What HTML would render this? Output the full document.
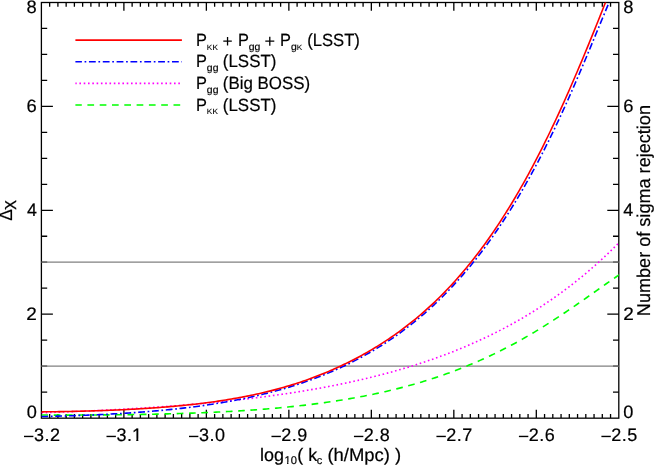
<!DOCTYPE html>
<html><head><meta charset="utf-8"><title>plot</title>
<style>html,body{margin:0;padding:0;background:#fff;}svg{display:block;will-change:transform;}text{font-family:"Liberation Sans",sans-serif;fill:#000;white-space:pre;stroke:#000;stroke-width:0.2px;text-rendering:geometricPrecision;}</style>
</head><body>
<svg width="654" height="465" viewBox="0 0 654 465">
<rect x="0" y="0" width="654" height="465" fill="#ffffff"/>
<defs><clipPath id="pc"><rect x="41.4" y="2.5" width="577.40" height="415.55"/></clipPath><clipPath id="c1a"><path d="M-1,-18.00 H18.00 V-2.14 H6.37 V2 H4.28 V-2.14 H-1 Z"/></clipPath><clipPath id="c1b"><path d="M-1,-11.16 H11.16 V-1.63 H4.04 V2 H2.56 V-1.63 H-1 Z"/></clipPath></defs>
<path d="M49.65,418.05 v-4.15 M49.65,2.5 v4.15 M57.90,418.05 v-4.15 M57.90,2.5 v4.15 M66.15,418.05 v-4.15 M66.15,2.5 v4.15 M74.39,418.05 v-4.15 M74.39,2.5 v4.15 M82.64,418.05 v-4.15 M82.64,2.5 v4.15 M90.89,418.05 v-4.15 M90.89,2.5 v4.15 M99.14,418.05 v-4.15 M99.14,2.5 v4.15 M107.39,418.05 v-4.15 M107.39,2.5 v4.15 M115.64,418.05 v-4.15 M115.64,2.5 v4.15 M123.89,418.05 v-8.3 M123.89,2.5 v8.3 M132.13,418.05 v-4.15 M132.13,2.5 v4.15 M140.38,418.05 v-4.15 M140.38,2.5 v4.15 M148.63,418.05 v-4.15 M148.63,2.5 v4.15 M156.88,418.05 v-4.15 M156.88,2.5 v4.15 M165.13,418.05 v-4.15 M165.13,2.5 v4.15 M173.38,418.05 v-4.15 M173.38,2.5 v4.15 M181.63,418.05 v-4.15 M181.63,2.5 v4.15 M189.87,418.05 v-4.15 M189.87,2.5 v4.15 M198.12,418.05 v-4.15 M198.12,2.5 v4.15 M206.37,418.05 v-8.3 M206.37,2.5 v8.3 M214.62,418.05 v-4.15 M214.62,2.5 v4.15 M222.87,418.05 v-4.15 M222.87,2.5 v4.15 M231.12,418.05 v-4.15 M231.12,2.5 v4.15 M239.37,418.05 v-4.15 M239.37,2.5 v4.15 M247.61,418.05 v-4.15 M247.61,2.5 v4.15 M255.86,418.05 v-4.15 M255.86,2.5 v4.15 M264.11,418.05 v-4.15 M264.11,2.5 v4.15 M272.36,418.05 v-4.15 M272.36,2.5 v4.15 M280.61,418.05 v-4.15 M280.61,2.5 v4.15 M288.86,418.05 v-8.3 M288.86,2.5 v8.3 M297.11,418.05 v-4.15 M297.11,2.5 v4.15 M305.35,418.05 v-4.15 M305.35,2.5 v4.15 M313.60,418.05 v-4.15 M313.60,2.5 v4.15 M321.85,418.05 v-4.15 M321.85,2.5 v4.15 M330.10,418.05 v-4.15 M330.10,2.5 v4.15 M338.35,418.05 v-4.15 M338.35,2.5 v4.15 M346.60,418.05 v-4.15 M346.60,2.5 v4.15 M354.85,418.05 v-4.15 M354.85,2.5 v4.15 M363.09,418.05 v-4.15 M363.09,2.5 v4.15 M371.34,418.05 v-8.3 M371.34,2.5 v8.3 M379.59,418.05 v-4.15 M379.59,2.5 v4.15 M387.84,418.05 v-4.15 M387.84,2.5 v4.15 M396.09,418.05 v-4.15 M396.09,2.5 v4.15 M404.34,418.05 v-4.15 M404.34,2.5 v4.15 M412.59,418.05 v-4.15 M412.59,2.5 v4.15 M420.83,418.05 v-4.15 M420.83,2.5 v4.15 M429.08,418.05 v-4.15 M429.08,2.5 v4.15 M437.33,418.05 v-4.15 M437.33,2.5 v4.15 M445.58,418.05 v-4.15 M445.58,2.5 v4.15 M453.83,418.05 v-8.3 M453.83,2.5 v8.3 M462.08,418.05 v-4.15 M462.08,2.5 v4.15 M470.33,418.05 v-4.15 M470.33,2.5 v4.15 M478.57,418.05 v-4.15 M478.57,2.5 v4.15 M486.82,418.05 v-4.15 M486.82,2.5 v4.15 M495.07,418.05 v-4.15 M495.07,2.5 v4.15 M503.32,418.05 v-4.15 M503.32,2.5 v4.15 M511.57,418.05 v-4.15 M511.57,2.5 v4.15 M519.82,418.05 v-4.15 M519.82,2.5 v4.15 M528.07,418.05 v-4.15 M528.07,2.5 v4.15 M536.31,418.05 v-8.3 M536.31,2.5 v8.3 M544.56,418.05 v-4.15 M544.56,2.5 v4.15 M552.81,418.05 v-4.15 M552.81,2.5 v4.15 M561.06,418.05 v-4.15 M561.06,2.5 v4.15 M569.31,418.05 v-4.15 M569.31,2.5 v4.15 M577.56,418.05 v-4.15 M577.56,2.5 v4.15 M585.81,418.05 v-4.15 M585.81,2.5 v4.15 M594.05,418.05 v-4.15 M594.05,2.5 v4.15 M602.30,418.05 v-4.15 M602.30,2.5 v4.15 M610.55,418.05 v-4.15 M610.55,2.5 v4.15 M41.4,392.08 h5.8 M618.8,392.08 h-5.8 M41.4,366.11 h5.8 M618.8,366.11 h-5.8 M41.4,340.13 h5.8 M618.8,340.13 h-5.8 M41.4,314.16 h11.5 M618.8,314.16 h-11.5 M41.4,288.19 h5.8 M618.8,288.19 h-5.8 M41.4,262.22 h5.8 M618.8,262.22 h-5.8 M41.4,236.25 h5.8 M618.8,236.25 h-5.8 M41.4,210.28 h11.5 M618.8,210.28 h-11.5 M41.4,184.30 h5.8 M618.8,184.30 h-5.8 M41.4,158.33 h5.8 M618.8,158.33 h-5.8 M41.4,132.36 h5.8 M618.8,132.36 h-5.8 M41.4,106.39 h11.5 M618.8,106.39 h-11.5 M41.4,80.42 h5.8 M618.8,80.42 h-5.8 M41.4,54.44 h5.8 M618.8,54.44 h-5.8 M41.4,28.47 h5.8 M618.8,28.47 h-5.8" stroke="#000" stroke-width="1.3" fill="none"/>
<rect x="41.4" y="2.5" width="577.40" height="415.67" fill="none" stroke="#000" stroke-width="1.3"/>
<line x1="41.4" y1="366.11" x2="618.8" y2="366.11" stroke="#808080" stroke-width="1.3"/>
<line x1="41.4" y1="262.22" x2="618.8" y2="262.22" stroke="#808080" stroke-width="1.3"/>
<g clip-path="url(#pc)" fill="none" stroke-width="1.6">
<path d="M41.40,415.03 L43.34,415.04 L45.28,415.05 L47.22,415.06 L49.16,415.07 L51.11,415.08 L53.05,415.08 L54.99,415.08 L56.93,415.09 L58.87,415.09 L60.81,415.09 L62.75,415.09 L64.69,415.09 L66.63,415.09 L68.58,415.09 L70.52,415.09 L72.46,415.09 L74.40,415.08 L76.34,415.08 L78.28,415.07 L80.22,415.06 L82.16,415.06 L84.11,415.05 L86.05,415.04 L87.99,415.03 L89.93,415.02 L91.87,415.01 L93.81,415.00 L95.75,414.98 L97.69,414.97 L99.63,414.95 L101.58,414.94 L103.52,414.92 L105.46,414.90 L107.40,414.89 L109.34,414.87 L111.28,414.85 L113.22,414.83 L115.16,414.81 L117.10,414.78 L119.05,414.76 L120.99,414.74 L122.93,414.71 L124.87,414.68 L126.81,414.66 L128.75,414.63 L130.69,414.60 L132.63,414.57 L134.57,414.54 L136.52,414.51 L138.46,414.48 L140.40,414.44 L142.34,414.41 L144.28,414.37 L146.22,414.33 L148.16,414.30 L150.10,414.26 L152.04,414.22 L153.99,414.18 L155.93,414.13 L157.87,414.09 L159.81,414.05 L161.75,414.00 L163.69,413.95 L165.63,413.90 L167.57,413.85 L169.52,413.80 L171.46,413.75 L173.40,413.70 L175.34,413.64 L177.28,413.58 L179.22,413.53 L181.16,413.47 L183.10,413.41 L185.04,413.34 L186.99,413.28 L188.93,413.22 L190.87,413.15 L192.81,413.08 L194.75,413.01 L196.69,412.94 L198.63,412.86 L200.57,412.79 L202.51,412.71 L204.46,412.63 L206.40,412.55 L208.34,412.47 L210.28,412.39 L212.22,412.30 L214.16,412.21 L216.10,412.12 L218.04,412.03 L219.98,411.94 L221.93,411.84 L223.87,411.74 L225.81,411.64 L227.75,411.54 L229.69,411.43 L231.63,411.33 L233.57,411.22 L235.51,411.10 L237.45,410.99 L239.40,410.87 L241.34,410.75 L243.28,410.63 L245.22,410.51 L247.16,410.38 L249.10,410.25 L251.04,410.12 L252.98,409.98 L254.93,409.84 L256.87,409.70 L258.81,409.56 L260.75,409.41 L262.69,409.26 L264.63,409.11 L266.57,408.95 L268.51,408.79 L270.45,408.63 L272.40,408.47 L274.34,408.30 L276.28,408.13 L278.22,407.95 L280.16,407.77 L282.10,407.59 L284.04,407.40 L285.98,407.21 L287.92,407.02 L289.87,406.82 L291.81,406.62 L293.75,406.42 L295.69,406.21 L297.63,406.00 L299.57,405.78 L301.51,405.56 L303.45,405.34 L305.39,405.11 L307.34,404.88 L309.28,404.64 L311.22,404.40 L313.16,404.16 L315.10,403.91 L317.04,403.66 L318.98,403.40 L320.92,403.14 L322.86,402.87 L324.81,402.60 L326.75,402.33 L328.69,402.05 L330.63,401.77 L332.57,401.48 L334.51,401.18 L336.45,400.89 L338.39,400.58 L340.34,400.28 L342.28,399.96 L344.22,399.64 L346.16,399.32 L348.10,398.99 L350.04,398.66 L351.98,398.32 L353.92,397.98 L355.86,397.63 L357.81,397.27 L359.75,396.91 L361.69,396.54 L363.63,396.17 L365.57,395.79 L367.51,395.40 L369.45,395.01 L371.39,394.62 L373.33,394.21 L375.28,393.81 L377.22,393.39 L379.16,392.97 L381.10,392.54 L383.04,392.11 L384.98,391.66 L386.92,391.22 L388.86,390.76 L390.80,390.30 L392.75,389.83 L394.69,389.36 L396.63,388.87 L398.57,388.38 L400.51,387.89 L402.45,387.38 L404.39,386.87 L406.33,386.35 L408.27,385.82 L410.22,385.29 L412.16,384.75 L414.10,384.20 L416.04,383.64 L417.98,383.08 L419.92,382.50 L421.86,381.92 L423.80,381.33 L425.75,380.73 L427.69,380.13 L429.63,379.51 L431.57,378.89 L433.51,378.26 L435.45,377.62 L437.39,376.97 L439.33,376.31 L441.27,375.65 L443.22,374.97 L445.16,374.29 L447.10,373.60 L449.04,372.89 L450.98,372.18 L452.92,371.46 L454.86,370.73 L456.80,369.99 L458.74,369.25 L460.69,368.49 L462.63,367.72 L464.57,366.95 L466.51,366.16 L468.45,365.36 L470.39,364.56 L472.33,363.74 L474.27,362.92 L476.21,362.08 L478.16,361.24 L480.10,360.38 L482.04,359.51 L483.98,358.64 L485.92,357.75 L487.86,356.86 L489.80,355.95 L491.74,355.03 L493.68,354.10 L495.63,353.17 L497.57,352.22 L499.51,351.26 L501.45,350.29 L503.39,349.30 L505.33,348.31 L507.27,347.31 L509.21,346.29 L511.16,345.27 L513.10,344.23 L515.04,343.18 L516.98,342.12 L518.92,341.05 L520.86,339.97 L522.80,338.88 L524.74,337.77 L526.68,336.66 L528.63,335.53 L530.57,334.39 L532.51,333.24 L534.45,332.08 L536.39,330.91 L538.33,329.73 L540.27,328.54 L542.21,327.34 L544.15,326.13 L546.10,324.91 L548.04,323.68 L549.98,322.44 L551.92,321.19 L553.86,319.94 L555.80,318.67 L557.74,317.40 L559.68,316.11 L561.62,314.82 L563.57,313.52 L565.51,312.22 L567.45,310.91 L569.39,309.59 L571.33,308.26 L573.27,306.93 L575.21,305.59 L577.15,304.25 L579.09,302.90 L581.04,301.55 L582.98,300.19 L584.92,298.83 L586.86,297.47 L588.80,296.11 L590.74,294.74 L592.68,293.37 L594.62,292.00 L596.57,290.62 L598.51,289.25 L600.45,287.88 L602.39,286.51 L604.33,285.14 L606.27,283.77 L608.21,282.40 L610.15,281.04 L612.09,279.68 L614.04,278.33 L615.98,276.97 L617.92,275.63 L619.86,274.29 L621.80,272.96" stroke="#00ff00" stroke-dasharray="6.7 5.6"/>
<path d="M41.40,412.80 L43.34,412.74 L45.28,412.67 L47.22,412.60 L49.16,412.53 L51.11,412.46 L53.05,412.39 L54.99,412.32 L56.93,412.25 L58.87,412.18 L60.81,412.10 L62.75,412.03 L64.69,411.95 L66.63,411.88 L68.58,411.80 L70.52,411.72 L72.46,411.64 L74.40,411.56 L76.34,411.48 L78.28,411.40 L80.22,411.31 L82.16,411.23 L84.11,411.15 L86.05,411.06 L87.99,410.97 L89.93,410.88 L91.87,410.79 L93.81,410.70 L95.75,410.61 L97.69,410.52 L99.63,410.43 L101.58,410.33 L103.52,410.24 L105.46,410.14 L107.40,410.04 L109.34,409.94 L111.28,409.84 L113.22,409.74 L115.16,409.64 L117.10,409.53 L119.05,409.43 L120.99,409.32 L122.93,409.21 L124.87,409.10 L126.81,408.99 L128.75,408.88 L130.69,408.77 L132.63,408.65 L134.57,408.54 L136.52,408.42 L138.46,408.30 L140.40,408.18 L142.34,408.06 L144.28,407.94 L146.22,407.81 L148.16,407.69 L150.10,407.56 L152.04,407.43 L153.99,407.30 L155.93,407.17 L157.87,407.03 L159.81,406.90 L161.75,406.76 L163.69,406.62 L165.63,406.48 L167.57,406.34 L169.52,406.20 L171.46,406.05 L173.40,405.91 L175.34,405.76 L177.28,405.61 L179.22,405.46 L181.16,405.30 L183.10,405.15 L185.04,404.99 L186.99,404.83 L188.93,404.67 L190.87,404.51 L192.81,404.34 L194.75,404.18 L196.69,404.01 L198.63,403.84 L200.57,403.66 L202.51,403.49 L204.46,403.31 L206.40,403.13 L208.34,402.95 L210.28,402.77 L212.22,402.59 L214.16,402.40 L216.10,402.21 L218.04,402.02 L219.98,401.82 L221.93,401.63 L223.87,401.43 L225.81,401.23 L227.75,401.02 L229.69,400.82 L231.63,400.61 L233.57,400.40 L235.51,400.19 L237.45,399.97 L239.40,399.76 L241.34,399.54 L243.28,399.31 L245.22,399.09 L247.16,398.86 L249.10,398.63 L251.04,398.40 L252.98,398.16 L254.93,397.92 L256.87,397.68 L258.81,397.43 L260.75,397.19 L262.69,396.94 L264.63,396.68 L266.57,396.43 L268.51,396.17 L270.45,395.91 L272.40,395.64 L274.34,395.38 L276.28,395.11 L278.22,394.83 L280.16,394.55 L282.10,394.27 L284.04,393.99 L285.98,393.70 L287.92,393.41 L289.87,393.12 L291.81,392.82 L293.75,392.52 L295.69,392.22 L297.63,391.91 L299.57,391.60 L301.51,391.29 L303.45,390.97 L305.39,390.65 L307.34,390.32 L309.28,389.99 L311.22,389.66 L313.16,389.32 L315.10,388.98 L317.04,388.64 L318.98,388.29 L320.92,387.94 L322.86,387.58 L324.81,387.22 L326.75,386.85 L328.69,386.49 L330.63,386.11 L332.57,385.74 L334.51,385.35 L336.45,384.97 L338.39,384.58 L340.34,384.18 L342.28,383.78 L344.22,383.38 L346.16,382.97 L348.10,382.56 L350.04,382.14 L351.98,381.72 L353.92,381.29 L355.86,380.86 L357.81,380.42 L359.75,379.98 L361.69,379.53 L363.63,379.08 L365.57,378.62 L367.51,378.16 L369.45,377.69 L371.39,377.22 L373.33,376.74 L375.28,376.25 L377.22,375.76 L379.16,375.27 L381.10,374.77 L383.04,374.26 L384.98,373.75 L386.92,373.23 L388.86,372.71 L390.80,372.18 L392.75,371.64 L394.69,371.10 L396.63,370.55 L398.57,370.00 L400.51,369.44 L402.45,368.87 L404.39,368.30 L406.33,367.72 L408.27,367.13 L410.22,366.54 L412.16,365.94 L414.10,365.33 L416.04,364.72 L417.98,364.10 L419.92,363.47 L421.86,362.84 L423.80,362.19 L425.75,361.55 L427.69,360.89 L429.63,360.23 L431.57,359.55 L433.51,358.88 L435.45,358.19 L437.39,357.50 L439.33,356.79 L441.27,356.09 L443.22,355.37 L445.16,354.64 L447.10,353.91 L449.04,353.17 L450.98,352.42 L452.92,351.66 L454.86,350.89 L456.80,350.11 L458.74,349.33 L460.69,348.54 L462.63,347.73 L464.57,346.92 L466.51,346.10 L468.45,345.27 L470.39,344.43 L472.33,343.58 L474.27,342.73 L476.21,341.86 L478.16,340.98 L480.10,340.09 L482.04,339.20 L483.98,338.29 L485.92,337.37 L487.86,336.45 L489.80,335.51 L491.74,334.56 L493.68,333.60 L495.63,332.63 L497.57,331.65 L499.51,330.66 L501.45,329.66 L503.39,328.64 L505.33,327.62 L507.27,326.58 L509.21,325.53 L511.16,324.47 L513.10,323.40 L515.04,322.32 L516.98,321.22 L518.92,320.11 L520.86,318.99 L522.80,317.86 L524.74,316.71 L526.68,315.56 L528.63,314.38 L530.57,313.20 L532.51,312.00 L534.45,310.79 L536.39,309.57 L538.33,308.33 L540.27,307.08 L542.21,305.81 L544.15,304.53 L546.10,303.24 L548.04,301.93 L549.98,300.61 L551.92,299.27 L553.86,297.92 L555.80,296.55 L557.74,295.17 L559.68,293.77 L561.62,292.36 L563.57,290.93 L565.51,289.48 L567.45,288.02 L569.39,286.54 L571.33,285.05 L573.27,283.54 L575.21,282.01 L577.15,280.47 L579.09,278.91 L581.04,277.33 L582.98,275.73 L584.92,274.12 L586.86,272.49 L588.80,270.84 L590.74,269.17 L592.68,267.49 L594.62,265.78 L596.57,264.06 L598.51,262.31 L600.45,260.55 L602.39,258.77 L604.33,256.97 L606.27,255.15 L608.21,253.30 L610.15,251.44 L612.09,249.56 L614.04,247.66 L615.98,245.73 L617.92,243.79 L619.86,241.82 L621.80,239.83" stroke="#ff00ff" stroke-dasharray="1.6 2.7"/>
<path d="M41.40,416.56 L43.34,416.52 L45.28,416.47 L47.22,416.43 L49.16,416.38 L51.11,416.33 L53.05,416.28 L54.99,416.23 L56.93,416.17 L58.87,416.12 L60.81,416.06 L62.75,416.01 L64.69,415.95 L66.63,415.89 L68.58,415.83 L70.52,415.76 L72.46,415.70 L74.40,415.63 L76.34,415.56 L78.28,415.49 L80.22,415.42 L82.16,415.35 L84.11,415.27 L86.05,415.20 L87.99,415.12 L89.93,415.04 L91.87,414.96 L93.81,414.87 L95.75,414.79 L97.69,414.70 L99.63,414.61 L101.58,414.51 L103.52,414.42 L105.46,414.32 L107.40,414.22 L109.34,414.12 L111.28,414.02 L113.22,413.91 L115.16,413.81 L117.10,413.70 L119.05,413.58 L120.99,413.47 L122.93,413.35 L124.87,413.23 L126.81,413.10 L128.75,412.98 L130.69,412.85 L132.63,412.72 L134.57,412.58 L136.52,412.45 L138.46,412.31 L140.40,412.16 L142.34,412.02 L144.28,411.87 L146.22,411.71 L148.16,411.56 L150.10,411.40 L152.04,411.24 L153.99,411.07 L155.93,410.90 L157.87,410.73 L159.81,410.55 L161.75,410.37 L163.69,410.19 L165.63,410.00 L167.57,409.81 L169.52,409.62 L171.46,409.42 L173.40,409.21 L175.34,409.01 L177.28,408.80 L179.22,408.58 L181.16,408.36 L183.10,408.14 L185.04,407.91 L186.99,407.68 L188.93,407.44 L190.87,407.20 L192.81,406.95 L194.75,406.70 L196.69,406.45 L198.63,406.19 L200.57,405.92 L202.51,405.65 L204.46,405.37 L206.40,405.09 L208.34,404.81 L210.28,404.52 L212.22,404.22 L214.16,403.92 L216.10,403.61 L218.04,403.29 L219.98,402.98 L221.93,402.65 L223.87,402.32 L225.81,401.98 L227.75,401.64 L229.69,401.29 L231.63,400.93 L233.57,400.57 L235.51,400.20 L237.45,399.83 L239.40,399.45 L241.34,399.06 L243.28,398.66 L245.22,398.26 L247.16,397.85 L249.10,397.44 L251.04,397.01 L252.98,396.58 L254.93,396.15 L256.87,395.70 L258.81,395.25 L260.75,394.79 L262.69,394.32 L264.63,393.84 L266.57,393.36 L268.51,392.86 L270.45,392.36 L272.40,391.85 L274.34,391.34 L276.28,390.81 L278.22,390.27 L280.16,389.73 L282.10,389.18 L284.04,388.61 L285.98,388.04 L287.92,387.46 L289.87,386.87 L291.81,386.27 L293.75,385.66 L295.69,385.04 L297.63,384.41 L299.57,383.77 L301.51,383.12 L303.45,382.46 L305.39,381.79 L307.34,381.11 L309.28,380.42 L311.22,379.72 L313.16,379.00 L315.10,378.28 L317.04,377.54 L318.98,376.79 L320.92,376.03 L322.86,375.26 L324.81,374.47 L326.75,373.68 L328.69,372.87 L330.63,372.05 L332.57,371.21 L334.51,370.36 L336.45,369.50 L338.39,368.63 L340.34,367.74 L342.28,366.84 L344.22,365.93 L346.16,365.00 L348.10,364.06 L350.04,363.10 L351.98,362.13 L353.92,361.15 L355.86,360.15 L357.81,359.13 L359.75,358.10 L361.69,357.06 L363.63,355.99 L365.57,354.92 L367.51,353.82 L369.45,352.71 L371.39,351.59 L373.33,350.44 L375.28,349.28 L377.22,348.10 L379.16,346.91 L381.10,345.70 L383.04,344.47 L384.98,343.22 L386.92,341.95 L388.86,340.67 L390.80,339.36 L392.75,338.04 L394.69,336.69 L396.63,335.33 L398.57,333.95 L400.51,332.54 L402.45,331.12 L404.39,329.68 L406.33,328.21 L408.27,326.72 L410.22,325.22 L412.16,323.69 L414.10,322.13 L416.04,320.56 L417.98,318.96 L419.92,317.34 L421.86,315.69 L423.80,314.03 L425.75,312.33 L427.69,310.62 L429.63,308.87 L431.57,307.11 L433.51,305.31 L435.45,303.50 L437.39,301.65 L439.33,299.78 L441.27,297.88 L443.22,295.95 L445.16,294.00 L447.10,292.02 L449.04,290.01 L450.98,287.97 L452.92,285.90 L454.86,283.80 L456.80,281.67 L458.74,279.51 L460.69,277.33 L462.63,275.11 L464.57,272.85 L466.51,270.57 L468.45,268.26 L470.39,265.91 L472.33,263.53 L474.27,261.12 L476.21,258.67 L478.16,256.19 L480.10,253.68 L482.04,251.14 L483.98,248.55 L485.92,245.94 L487.86,243.29 L489.80,240.60 L491.74,237.88 L493.68,235.12 L495.63,232.33 L497.57,229.50 L499.51,226.63 L501.45,223.73 L503.39,220.78 L505.33,217.80 L507.27,214.79 L509.21,211.73 L511.16,208.63 L513.10,205.50 L515.04,202.33 L516.98,199.11 L518.92,195.86 L520.86,192.57 L522.80,189.23 L524.74,185.86 L526.68,182.44 L528.63,178.99 L530.57,175.49 L532.51,171.95 L534.45,168.37 L536.39,164.74 L538.33,161.08 L540.27,157.37 L542.21,153.61 L544.15,149.82 L546.10,145.98 L548.04,142.10 L549.98,138.17 L551.92,134.20 L553.86,130.19 L555.80,126.13 L557.74,122.02 L559.68,117.88 L561.62,113.68 L563.57,109.45 L565.51,105.17 L567.45,100.85 L569.39,96.50 L571.33,92.11 L573.27,87.68 L575.21,83.22 L577.15,78.72 L579.09,74.20 L581.04,69.65 L582.98,65.08 L584.92,60.48 L586.86,55.86 L588.80,51.22 L590.74,46.57 L592.68,41.91 L594.62,37.23 L596.57,32.55 L598.51,27.87 L600.45,23.18 L602.39,18.50 L604.33,13.82 L606.27,9.16 L608.21,4.51 L610.15,-0.13 L612.09,-4.74 L614.04,-9.33 L615.98,-13.89 L617.92,-18.42 L619.86,-22.91 L621.80,-27.36" stroke="#0000ff" stroke-dasharray="6.8 2.67 1.7 2.67"/>
<path d="M41.40,411.85 L43.34,411.84 L45.28,411.82 L47.22,411.80 L49.16,411.78 L51.11,411.76 L53.05,411.73 L54.99,411.71 L56.93,411.68 L58.87,411.65 L60.81,411.62 L62.75,411.59 L64.69,411.55 L66.63,411.52 L68.58,411.48 L70.52,411.44 L72.46,411.40 L74.40,411.36 L76.34,411.32 L78.28,411.27 L80.22,411.22 L82.16,411.17 L84.11,411.12 L86.05,411.07 L87.99,411.02 L89.93,410.96 L91.87,410.90 L93.81,410.84 L95.75,410.78 L97.69,410.72 L99.63,410.65 L101.58,410.58 L103.52,410.51 L105.46,410.44 L107.40,410.37 L109.34,410.29 L111.28,410.21 L113.22,410.13 L115.16,410.05 L117.10,409.97 L119.05,409.88 L120.99,409.79 L122.93,409.70 L124.87,409.60 L126.81,409.51 L128.75,409.41 L130.69,409.31 L132.63,409.20 L134.57,409.10 L136.52,408.99 L138.46,408.87 L140.40,408.76 L142.34,408.64 L144.28,408.52 L146.22,408.40 L148.16,408.27 L150.10,408.14 L152.04,408.01 L153.99,407.87 L155.93,407.73 L157.87,407.59 L159.81,407.45 L161.75,407.30 L163.69,407.14 L165.63,406.99 L167.57,406.83 L169.52,406.66 L171.46,406.50 L173.40,406.33 L175.34,406.15 L177.28,405.97 L179.22,405.79 L181.16,405.60 L183.10,405.41 L185.04,405.21 L186.99,405.01 L188.93,404.81 L190.87,404.60 L192.81,404.39 L194.75,404.17 L196.69,403.95 L198.63,403.72 L200.57,403.49 L202.51,403.25 L204.46,403.00 L206.40,402.76 L208.34,402.50 L210.28,402.24 L212.22,401.98 L214.16,401.71 L216.10,401.43 L218.04,401.15 L219.98,400.86 L221.93,400.57 L223.87,400.26 L225.81,399.96 L227.75,399.64 L229.69,399.32 L231.63,399.00 L233.57,398.66 L235.51,398.32 L237.45,397.98 L239.40,397.62 L241.34,397.26 L243.28,396.89 L245.22,396.52 L247.16,396.13 L249.10,395.74 L251.04,395.34 L252.98,394.93 L254.93,394.52 L256.87,394.09 L258.81,393.66 L260.75,393.22 L262.69,392.77 L264.63,392.31 L266.57,391.84 L268.51,391.36 L270.45,390.88 L272.40,390.38 L274.34,389.88 L276.28,389.36 L278.22,388.84 L280.16,388.30 L282.10,387.76 L284.04,387.21 L285.98,386.64 L287.92,386.07 L289.87,385.48 L291.81,384.88 L293.75,384.28 L295.69,383.66 L297.63,383.03 L299.57,382.39 L301.51,381.74 L303.45,381.08 L305.39,380.40 L307.34,379.72 L309.28,379.02 L311.22,378.31 L313.16,377.59 L315.10,376.85 L317.04,376.11 L318.98,375.35 L320.92,374.58 L322.86,373.80 L324.81,373.00 L326.75,372.19 L328.69,371.37 L330.63,370.54 L332.57,369.69 L334.51,368.83 L336.45,367.96 L338.39,367.08 L340.34,366.18 L342.28,365.27 L344.22,364.34 L346.16,363.40 L348.10,362.45 L350.04,361.48 L351.98,360.50 L353.92,359.50 L355.86,358.49 L357.81,357.46 L359.75,356.42 L361.69,355.36 L363.63,354.29 L365.57,353.20 L367.51,352.10 L369.45,350.97 L371.39,349.84 L373.33,348.68 L375.28,347.51 L377.22,346.32 L379.16,345.12 L381.10,343.89 L383.04,342.65 L384.98,341.39 L386.92,340.11 L388.86,338.81 L390.80,337.50 L392.75,336.16 L394.69,334.80 L396.63,333.43 L398.57,332.03 L400.51,330.61 L402.45,329.18 L404.39,327.72 L406.33,326.24 L408.27,324.74 L410.22,323.21 L412.16,321.67 L414.10,320.10 L416.04,318.51 L417.98,316.89 L419.92,315.25 L421.86,313.59 L423.80,311.90 L425.75,310.19 L427.69,308.45 L429.63,306.68 L431.57,304.89 L433.51,303.07 L435.45,301.23 L437.39,299.36 L439.33,297.46 L441.27,295.53 L443.22,293.57 L445.16,291.59 L447.10,289.57 L449.04,287.53 L450.98,285.45 L452.92,283.34 L454.86,281.21 L456.80,279.04 L458.74,276.83 L460.69,274.60 L462.63,272.34 L464.57,270.04 L466.51,267.70 L468.45,265.34 L470.39,262.94 L472.33,260.51 L474.27,258.04 L476.21,255.54 L478.16,253.00 L480.10,250.43 L482.04,247.82 L483.98,245.17 L485.92,242.49 L487.86,239.78 L489.80,237.02 L491.74,234.23 L493.68,231.40 L495.63,228.54 L497.57,225.63 L499.51,222.69 L501.45,219.71 L503.39,216.69 L505.33,213.63 L507.27,210.53 L509.21,207.39 L511.16,204.21 L513.10,201.00 L515.04,197.74 L516.98,194.44 L518.92,191.10 L520.86,187.72 L522.80,184.30 L524.74,180.84 L526.68,177.33 L528.63,173.79 L530.57,170.20 L532.51,166.57 L534.45,162.90 L536.39,159.18 L538.33,155.43 L540.27,151.63 L542.21,147.79 L544.15,143.91 L546.10,139.98 L548.04,136.01 L549.98,132.01 L551.92,127.95 L553.86,123.86 L555.80,119.73 L557.74,115.56 L559.68,111.35 L561.62,107.09 L563.57,102.80 L565.51,98.48 L567.45,94.11 L569.39,89.71 L571.33,85.27 L573.27,80.80 L575.21,76.29 L577.15,71.76 L579.09,67.18 L581.04,62.58 L582.98,57.95 L584.92,53.29 L586.86,48.59 L588.80,43.88 L590.74,39.13 L592.68,34.37 L594.62,29.58 L596.57,24.76 L598.51,19.93 L600.45,15.08 L602.39,10.21 L604.33,5.32 L606.27,0.43 L608.21,-4.49 L610.15,-9.41 L612.09,-14.34 L614.04,-19.28 L615.98,-24.22 L617.92,-29.17 L619.86,-34.12 L621.80,-39.07" stroke="#ff0000"/>
</g>
<text transform="translate(33.96,441.00)" font-size="18.0" text-anchor="start" letter-spacing="0.5">3.2</text>
<line x1="24.00" y1="436.45" x2="33.40" y2="436.45" stroke="#000" stroke-width="1.4"/>
<text transform="translate(116.45,441.00)" font-size="18.0" text-anchor="start" letter-spacing="0.5">3.</text>
<text transform="translate(131.97,441.00)" font-size="18.0" text-anchor="start" clip-path="url(#c1a)">1</text>
<line x1="106.49" y1="436.45" x2="115.89" y2="436.45" stroke="#000" stroke-width="1.4"/>
<text transform="translate(198.94,441.00)" font-size="18.0" text-anchor="start" letter-spacing="0.5">3.0</text>
<line x1="188.97" y1="436.45" x2="198.37" y2="436.45" stroke="#000" stroke-width="1.4"/>
<text transform="translate(281.20,441.00)" font-size="18.0" text-anchor="start" letter-spacing="0.5">2.9</text>
<line x1="271.46" y1="436.45" x2="280.86" y2="436.45" stroke="#000" stroke-width="1.4"/>
<text transform="translate(363.69,441.00)" font-size="18.0" text-anchor="start" letter-spacing="0.5">2.8</text>
<line x1="353.94" y1="436.45" x2="363.34" y2="436.45" stroke="#000" stroke-width="1.4"/>
<text transform="translate(446.17,441.00)" font-size="18.0" text-anchor="start" letter-spacing="0.5">2.7</text>
<line x1="436.43" y1="436.45" x2="445.83" y2="436.45" stroke="#000" stroke-width="1.4"/>
<text transform="translate(528.66,441.00)" font-size="18.0" text-anchor="start" letter-spacing="0.5">2.6</text>
<line x1="518.91" y1="436.45" x2="528.31" y2="436.45" stroke="#000" stroke-width="1.4"/>
<text transform="translate(611.14,441.00)" font-size="18.0" text-anchor="start" letter-spacing="0.5">2.5</text>
<line x1="601.40" y1="436.45" x2="610.80" y2="436.45" stroke="#000" stroke-width="1.4"/>
<text transform="translate(36.80,418.40) scale(1.0100,1)" font-size="18.0" text-anchor="end">0</text>
<text transform="translate(623.20,418.40) scale(1.0100,1)" font-size="18.0" text-anchor="start">0</text>
<text transform="translate(36.80,319.71) scale(1.0550,1)" font-size="18.0" text-anchor="end">2</text>
<text transform="translate(623.20,319.71) scale(1.0550,1)" font-size="18.0" text-anchor="start">2</text>
<text transform="translate(36.80,215.83) scale(0.9900,1)" font-size="18.0" text-anchor="end">4</text>
<text transform="translate(623.20,215.83) scale(0.9900,1)" font-size="18.0" text-anchor="start">4</text>
<text transform="translate(36.80,111.94) scale(1.0200,1)" font-size="18.0" text-anchor="end">6</text>
<text transform="translate(623.20,111.94) scale(1.0200,1)" font-size="18.0" text-anchor="start">6</text>
<text transform="translate(36.80,12.80) scale(1.0200,1)" font-size="18.0" text-anchor="end">8</text>
<text transform="translate(623.20,12.80) scale(1.0200,1)" font-size="18.0" text-anchor="start">8</text>
<text transform="translate(259.90,460.50)" font-size="18.0" text-anchor="start">log</text>
<text transform="translate(284.42,463.90)" font-size="11.16" text-anchor="start" clip-path="url(#c1b)">1</text>
<text transform="translate(290.63,463.90)" font-size="11.16" text-anchor="start">0</text>
<text transform="translate(297.23,460.50)" font-size="18.0" text-anchor="start">( k</text>
<text transform="translate(316.83,463.90)" font-size="11.16" text-anchor="start">c</text>
<text transform="translate(322.31,460.50) scale(1.0250,1)" font-size="18.0" text-anchor="start"> (h/Mpc) )</text>
<text transform="translate(12.40,220.80) rotate(-90) scale(0.9430,1)" font-size="18.4" text-anchor="start">Δ</text>
<text transform="translate(12.90,209.70) rotate(-90) scale(1.2320,1)" font-size="14.86" text-anchor="start">χ</text>
<text transform="translate(650.20,210.60) rotate(-90) scale(0.9779,1)" font-size="18.5" text-anchor="middle">Number of sigma rejection</text>
<line x1="75.4" y1="40.15" x2="181.9" y2="40.15" stroke="#ff0000" stroke-width="1.6" stroke-dashoffset="0.3"/>
<line x1="75.4" y1="61.8" x2="181.9" y2="61.8" stroke="#0000ff" stroke-width="1.6" stroke-dasharray="6.8 2.67 1.7 2.67" stroke-dashoffset="0.3"/>
<line x1="75.4" y1="83.35" x2="181.9" y2="83.35" stroke="#ff00ff" stroke-width="1.6" stroke-dasharray="1.6 2.7" stroke-dashoffset="0.3"/>
<line x1="75.4" y1="105.0" x2="181.9" y2="105.0" stroke="#00ff00" stroke-width="1.6" stroke-dasharray="6.7 5.6" stroke-dashoffset="0.3"/>
<text transform="translate(195.96,45.80) scale(0.9250,1)" font-size="17.7" text-anchor="start">P</text>
<text transform="translate(206.53,49.50) scale(1.1440,1)" font-size="10.0" text-anchor="start" style="stroke:none;fill:#262626">κκ</text>
<path d="M223.30,41.20 H231.80 M227.55,36.95 V45.45" stroke="#000" stroke-width="1.3" fill="none"/>
<text transform="translate(237.96,45.80) scale(0.9250,1)" font-size="17.7" text-anchor="start">P</text>
<text transform="translate(248.66,49.50) scale(1.0400,1)" font-size="10.0" text-anchor="start">gg</text>
<path d="M265.30,41.20 H274.30 M269.80,36.70 V45.70" stroke="#000" stroke-width="1.3" fill="none"/>
<text transform="translate(280.06,45.80) scale(0.9250,1)" font-size="17.7" text-anchor="start">P</text>
<text transform="translate(290.96,49.50) scale(1.0400,1)" font-size="10.0" text-anchor="start">g</text>
<text transform="translate(296.43,49.50) scale(1.1440,1)" font-size="10.0" text-anchor="start" style="stroke:none;fill:#262626">κ</text>
<text transform="translate(307.17,45.80) scale(0.9400,1)" font-size="17.7" text-anchor="start">(LSST)</text>
<text transform="translate(195.96,67.10) scale(0.9250,1)" font-size="17.7" text-anchor="start">P</text>
<text transform="translate(206.86,70.80) scale(1.0400,1)" font-size="10.0" text-anchor="start">gg</text>
<text transform="translate(222.85,67.10) scale(0.9550,1)" font-size="17.7" text-anchor="start">(LSST)</text>
<text transform="translate(195.96,89.00) scale(0.9250,1)" font-size="17.7" text-anchor="start">P</text>
<text transform="translate(206.86,92.70) scale(1.0400,1)" font-size="10.0" text-anchor="start">gg</text>
<text transform="translate(222.85,89.00) scale(0.9550,1)" font-size="17.7" text-anchor="start">(Big BOSS)</text>
<text transform="translate(195.96,110.55) scale(0.9250,1)" font-size="17.7" text-anchor="start">P</text>
<text transform="translate(206.53,114.25) scale(1.1440,1)" font-size="10.0" text-anchor="start" style="stroke:none;fill:#262626">κκ</text>
<text transform="translate(222.85,110.55) scale(0.9550,1)" font-size="17.7" text-anchor="start">(LSST)</text>
</svg></body></html>
